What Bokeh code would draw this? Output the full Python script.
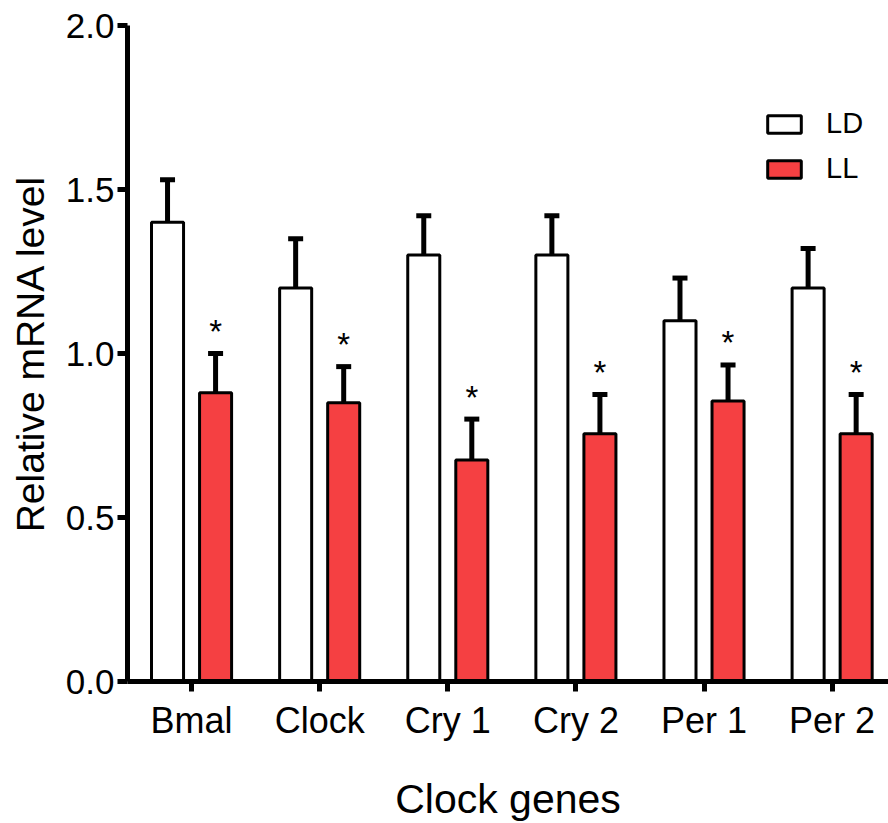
import numpy as np
from bokeh.plotting import figure
from bokeh.models import (ColumnDataSource, Range1d, FixedTicker, Whisker, TeeHead,
                          Legend, LegendItem)
from bokeh.core.properties import value
from bokeh.embed import file_html
from bokeh.resources import INLINE

genes = ["Bmal", "Clock", "Cry 1", "Cry 2", "Per 1", "Per 2"]
ld_mean = [1.40, 1.20, 1.30, 1.30, 1.10, 1.20]
ld_err = [0.13, 0.15, 0.12, 0.12, 0.13, 0.12]
ll_mean = [0.88, 0.85, 0.675, 0.755, 0.855, 0.755]
ll_err = [0.12, 0.11, 0.125, 0.12, 0.11, 0.12]
ll_sig = ["*", "*", "*", "*", "*", "*"]
y_ticks = [0.0, 0.5, 1.0, 1.5, 2.0]

FONT = "Liberation Sans"
RED = "#F54042"
BAR_W = 0.25
OFF = 0.1875

idx = np.arange(len(genes)) + 0.5
ld_src = ColumnDataSource(dict(x=idx - OFF, top=ld_mean,
                               upper=[m + e for m, e in zip(ld_mean, ld_err)]))
ll_src = ColumnDataSource(dict(x=idx + OFF, top=ll_mean,
                               upper=[m + e for m, e in zip(ll_mean, ll_err)],
                               star=ll_sig))

p = figure(frame_width=761, frame_height=656, output_backend="svg",
           toolbar_location=None,
           x_range=Range1d(0, 5.94), y_range=Range1d(0, 2.0),
           min_border_left=127, min_border_right=0, min_border_top=25,
           min_border_bottom=142)
p.outline_line_color = None
p.grid.visible = False
p.background_fill_color = "white"

# error bars (upper only)
for src in (ld_src, ll_src):
    w = Whisker(source=src, base="x", lower="top", upper="upper",
                line_color="black", line_width=5,
                upper_head=TeeHead(size=15, line_width=5, line_color="black"),
                lower_head=None, level="underlay")
    p.add_layout(w)

r_ld = p.vbar(x="x", top="top", width=BAR_W, source=ld_src, fill_color="white",
              line_color="black", line_width=3)
r_ll = p.vbar(x="x", top="top", width=BAR_W, source=ll_src, fill_color=RED,
              line_color="black", line_width=3)

p.text(x="x", y="upper", text="star", source=ll_src, text_align="center",
       text_baseline="alphabetic", y_offset=-22, text_font=value(FONT),
       text_font_size="33px", text_color="black")

legend = Legend(items=[LegendItem(label="LD", renderers=[r_ld]),
                       LegendItem(label="LL", renderers=[r_ll])],
                location=(636, 496))
legend.border_line_color = None
legend.background_fill_alpha = 0
legend.padding = 0
legend.margin = 0
legend.glyph_width = 42
legend.glyph_height = 22
legend.label_height = 22
legend.spacing = 12
legend.label_standoff = 21
legend.label_text_font = FONT
legend.label_text_font_size = "29px"
legend.label_text_color = "black"
p.add_layout(legend)

for ax in (p.xaxis[0], p.yaxis[0]):
    ax.axis_line_width = 5
    ax.axis_line_color = "black"
    ax.major_tick_line_width = 5
    ax.major_tick_line_color = "black"
    ax.major_tick_in = 0
    ax.major_tick_out = 10
    ax.minor_tick_line_color = None
    ax.major_label_text_font = FONT
    ax.major_label_text_color = "black"
    ax.axis_label_text_font = FONT
    ax.axis_label_text_font_style = "normal"
    ax.axis_label_text_color = "black"

p.xaxis.ticker = FixedTicker(ticks=list(idx))
p.xaxis.major_label_overrides = {float(v): g for v, g in zip(idx, genes)}
p.xaxis.major_label_text_font_size = "36px"
p.xaxis.major_label_standoff = 8
p.xaxis.axis_label = "Clock genes"
p.xaxis.axis_label_text_font_size = "41px"
p.xaxis.axis_label_standoff = 32

p.yaxis.ticker = FixedTicker(ticks=y_ticks)
p.yaxis.major_label_overrides = {v: f"{v:.1f}" for v in y_ticks}
p.yaxis.major_label_text_font_size = "35px"
p.yaxis.major_label_standoff = 3
p.yaxis.axis_label = "Relative mRNA level"
p.yaxis.axis_label_text_font_size = "39px"
p.yaxis.axis_label_standoff = 11

open("out.html", "w").write(file_html(p, INLINE))
